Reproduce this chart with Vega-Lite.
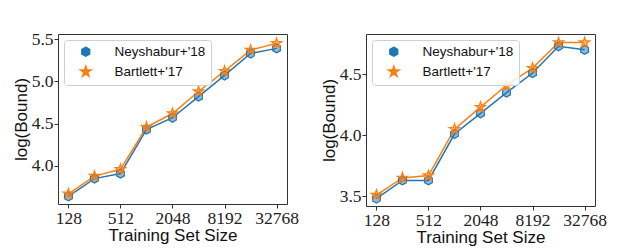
{
  "$schema": "https://vega.github.io/schema/vega-lite/v6.json",
  "padding": {"left": 11, "top": 29, "right": 5, "bottom": 0},
  "background": "white",
  "spacing": 20,
  "datasets": {
    "left": [
      {"size": 128, "method": "Neyshabur+'18", "bound": 3.64},
      {"size": 256, "method": "Neyshabur+'18", "bound": 3.85},
      {"size": 512, "method": "Neyshabur+'18", "bound": 3.91},
      {"size": 1024, "method": "Neyshabur+'18", "bound": 4.43},
      {"size": 2048, "method": "Neyshabur+'18", "bound": 4.57},
      {"size": 4096, "method": "Neyshabur+'18", "bound": 4.82},
      {"size": 8192, "method": "Neyshabur+'18", "bound": 5.07},
      {"size": 16384, "method": "Neyshabur+'18", "bound": 5.33},
      {"size": 32768, "method": "Neyshabur+'18", "bound": 5.39},
      {"size": 128, "method": "Bartlett+'17", "bound": 3.67},
      {"size": 256, "method": "Bartlett+'17", "bound": 3.88},
      {"size": 512, "method": "Bartlett+'17", "bound": 3.96},
      {"size": 1024, "method": "Bartlett+'17", "bound": 4.46},
      {"size": 2048, "method": "Bartlett+'17", "bound": 4.62},
      {"size": 4096, "method": "Bartlett+'17", "bound": 4.88},
      {"size": 8192, "method": "Bartlett+'17", "bound": 5.12},
      {"size": 16384, "method": "Bartlett+'17", "bound": 5.37},
      {"size": 32768, "method": "Bartlett+'17", "bound": 5.45}
    ],
    "right": [
      {"size": 128, "method": "Neyshabur+'18", "bound": 3.48},
      {"size": 256, "method": "Neyshabur+'18", "bound": 3.63},
      {"size": 512, "method": "Neyshabur+'18", "bound": 3.63},
      {"size": 1024, "method": "Neyshabur+'18", "bound": 4.01},
      {"size": 2048, "method": "Neyshabur+'18", "bound": 4.18},
      {"size": 4096, "method": "Neyshabur+'18", "bound": 4.35},
      {"size": 8192, "method": "Neyshabur+'18", "bound": 4.51},
      {"size": 16384, "method": "Neyshabur+'18", "bound": 4.73},
      {"size": 32768, "method": "Neyshabur+'18", "bound": 4.70},
      {"size": 128, "method": "Bartlett+'17", "bound": 3.51},
      {"size": 256, "method": "Bartlett+'17", "bound": 3.65},
      {"size": 512, "method": "Bartlett+'17", "bound": 3.67},
      {"size": 1024, "method": "Bartlett+'17", "bound": 4.05},
      {"size": 2048, "method": "Bartlett+'17", "bound": 4.23},
      {"size": 4096, "method": "Bartlett+'17", "bound": 4.41},
      {"size": 8192, "method": "Bartlett+'17", "bound": 4.55},
      {"size": 16384, "method": "Bartlett+'17", "bound": 4.76},
      {"size": 32768, "method": "Bartlett+'17", "bound": 4.76}
    ]
  },
  "config": {
    "view": {"stroke": "#333333", "strokeWidth": 1},
    "axis": {
      "grid": false,
      "domain": false,
      "tickColor": "#333333",
      "tickSize": 4,
      "labelFont": "Liberation Serif",
      "labelFontSize": 17.5,
      "labelColor": "#222222",
      "titleFont": "Liberation Sans",
      "titleFontSize": 17,
      "titleFontWeight": "normal",
      "titleColor": "#111111",
      "labelPadding": 1,
      "titlePadding": 1
    },
    "legend": {
      "orient": "top-left",
      "offset": 6,
      "labelFont": "Liberation Sans",
      "labelFontSize": 13.5,
      "labelColor": "#111111",
      "strokeColor": "#d0d0d0",
      "fillColor": "rgba(255,255,255,0.85)",
      "cornerRadius": 3,
      "padding": 5,
      "rowPadding": 3,
      "symbolSize": 81,
      "symbolOffset": 10,
      "labelOffset": 22,
      "title": null
    }
  },
  "resolve": {"scale": {"color": "independent", "shape": "independent", "stroke": "independent"}, "legend": {"color": "independent", "shape": "independent", "stroke": "independent"}},
  "hconcat": [
    {
      "width": 229,
      "height": 170,
      "data": {"name": "left"},
      "encoding": {
        "x": {"field": "size", "type": "quantitative", "scale": {"type": "log", "base": 2, "domain": [97.01, 43237], "nice": false, "zero": false}, "axis": {"values": [128, 512, 2048, 8192, 32768], "format": "d", "title": "Training Set Size"}},
        "y": {"field": "bound", "type": "quantitative", "scale": {"domain": [3.55, 5.56], "nice": false, "zero": false}, "axis": {"values": [4.0, 4.5, 5.0, 5.5], "format": ".1f", "title": "log(Bound)"}},
        "color": {"field": "method", "type": "nominal", "sort": null, "scale": {"domain": ["Neyshabur+'18", "Bartlett+'17"], "range": ["#1f77b4", "#ff7f0e"]}}
      },
      "layer": [
        {"mark": {"type": "line", "strokeWidth": 1.5}},
        {
          "mark": {"type": "point", "filled": true, "fillOpacity": 0.5, "strokeWidth": 1.2, "size": 81},
          "encoding": {
            "stroke": {"field": "method", "type": "nominal", "sort": null, "scale": {"domain": ["Neyshabur+'18", "Bartlett+'17"], "range": ["#1f77b4", "#ff7f0e"]}},
            "shape": {"field": "method", "type": "nominal", "sort": null, "scale": {"domain": ["Neyshabur+'18", "Bartlett+'17"], "range": ["M0,-1L0.866,-0.5L0.866,0.5L0,1L-0.866,0.5L-0.866,-0.5Z", "M0,-1.2L0.269,-0.371L1.141,-0.371L0.436,0.142L0.705,0.971L0,0.458L-0.705,0.971L-0.436,0.142L-1.141,-0.371L-0.269,-0.371Z"]}}
          }
        }
      ]
    },
    {
      "width": 229,
      "height": 172,
      "data": {"name": "right"},
      "encoding": {
        "x": {"field": "size", "type": "quantitative", "scale": {"type": "log", "base": 2, "domain": [97.01, 43237], "nice": false, "zero": false}, "axis": {"values": [128, 512, 2048, 8192, 32768], "format": "d", "title": "Training Set Size"}},
        "y": {"field": "bound", "type": "quantitative", "scale": {"domain": [3.42, 4.83], "nice": false, "zero": false}, "axis": {"values": [3.5, 4.0, 4.5], "format": ".1f", "title": "log(Bound)"}},
        "color": {"field": "method", "type": "nominal", "sort": null, "scale": {"domain": ["Neyshabur+'18", "Bartlett+'17"], "range": ["#1f77b4", "#ff7f0e"]}}
      },
      "layer": [
        {"mark": {"type": "line", "strokeWidth": 1.5}},
        {
          "mark": {"type": "point", "filled": true, "fillOpacity": 0.5, "strokeWidth": 1.2, "size": 81},
          "encoding": {
            "stroke": {"field": "method", "type": "nominal", "sort": null, "scale": {"domain": ["Neyshabur+'18", "Bartlett+'17"], "range": ["#1f77b4", "#ff7f0e"]}},
            "shape": {"field": "method", "type": "nominal", "sort": null, "scale": {"domain": ["Neyshabur+'18", "Bartlett+'17"], "range": ["M0,-1L0.866,-0.5L0.866,0.5L0,1L-0.866,0.5L-0.866,-0.5Z", "M0,-1.2L0.269,-0.371L1.141,-0.371L0.436,0.142L0.705,0.971L0,0.458L-0.705,0.971L-0.436,0.142L-1.141,-0.371L-0.269,-0.371Z"]}}
          }
        }
      ]
    }
  ]
}
